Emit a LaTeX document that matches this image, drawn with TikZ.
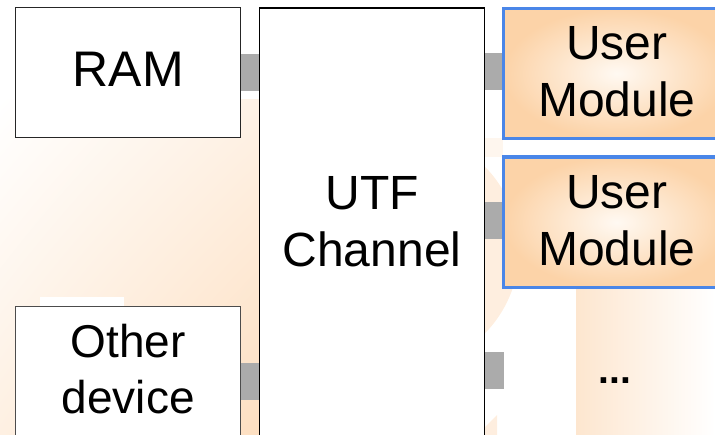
\documentclass[tikz,border=0pt]{standalone}
\usepackage{fontspec}
\setmainfont{Liberation Sans}
\usetikzlibrary{calc,shadings}

\pgfdeclarelayer{backdrop}
\pgfdeclarelayer{links}
\pgfsetlayers{backdrop,links,main}

\definecolor{peachA}{HTML}{FEF2E6}
\definecolor{peachB}{HTML}{FEF0E2}
\definecolor{peachC}{HTML}{FDDFC1}
\definecolor{peachD}{HTML}{FDE6CF}
\definecolor{tintA}{HTML}{FEEEDF}
\definecolor{tintB}{HTML}{FEF6EE}
\definecolor{modcore}{HTML}{FFF9F2}
\definecolor{modedge}{HTML}{FCD3A8}
\definecolor{modblue}{HTML}{4A86E8}
\definecolor{busgray}{HTML}{ABABAB}

\begin{document}
\begin{tikzpicture}[x=1pt,y=-1pt,
  plainbox/.style={draw=#1, fill=white, line width=1.4pt, inner sep=0pt,
    outer sep=0pt, align=center},
  modbox/.style={draw=modblue, line width=3.2pt, inner sep=0pt, outer sep=0pt,
    align=center, shading=radial, inner color=modcore, outer color=modedge,
    minimum width=226.5pt, font=\fontsize{48}{57.5}\selectfont, text depth=4pt},
  bus/.style={draw=busgray, line width=37pt},
]
\useasboundingbox (0,0) rectangle (715,435);

% memory and external device on the left
\node[plainbox=black!85, minimum width=225pt, minimum height=130.5pt,
  font=\fontsize{50}{60}\selectfont, text depth=6pt] (ram) at (128.2,72.5) {RAM};
\node[plainbox=black!70, minimum width=225pt, minimum height=133.3pt,
  font=\fontsize{46}{56}\selectfont, text depth=9.6pt] (other) at (128.2,373.35) {Other\\device};

% the channel in the middle
\node[plainbox=black, minimum width=224.6pt, minimum height=432pt,
  font=\fontsize{48}{57}\selectfont, text depth=6pt] (utf) at (372,224) {UTF\\Channel};

% user modules on the right
\node[modbox, minimum height=129.6pt] (mod1) at (616.75,73.5) {User\\Module};
\node[modbox, minimum height=130.7pt] (mod2) at (616.75,222.3) {User\\Module};
\node[font=\bfseries\fontsize{39}{46}\selectfont, anchor=base] (more) at (615,384) {...};

% ports joining the blocks
\coordinate (moreport) at (504,370.5);
\coordinate (otherport) at ($(other.east)+(0,8.15)$);
\begin{pgfonlayer}{links}
  \draw[bus] (ram.east) -- (utf.west |- ram.east);
  \draw[bus] ([yshift=2pt]mod1.west) -- ([yshift=2pt]utf.east |- mod1.west);
  \draw[bus] ([yshift=1.3pt]mod2.west) -- ([yshift=1.3pt]utf.east |- mod2.west);
  \draw[bus] (utf.east |- moreport) -- (moreport);
  \draw[bus] (otherport) -- (utf.west |- otherport);
\end{pgfonlayer}

% soft background washes
\begin{pgfonlayer}{backdrop}
  \shade[upper left=white, upper right=peachA, lower left=peachB,
    lower right=peachC] (0,100) rectangle (259,435);
  \fill[white] (40,296.7) rectangle (124,307);
  \fill[tintA] (400,250) circle[radius=119];
  \fill[tintB] (484,138) rectangle (503,157);
  \fill[tintA] (484,428) -- (497,415) -- (497,435) -- (484,435) -- cycle;
  \shade[left color=peachD, right color=white] (576,290) rectangle (715,435);
\end{pgfonlayer}
\end{tikzpicture}
\end{document}
